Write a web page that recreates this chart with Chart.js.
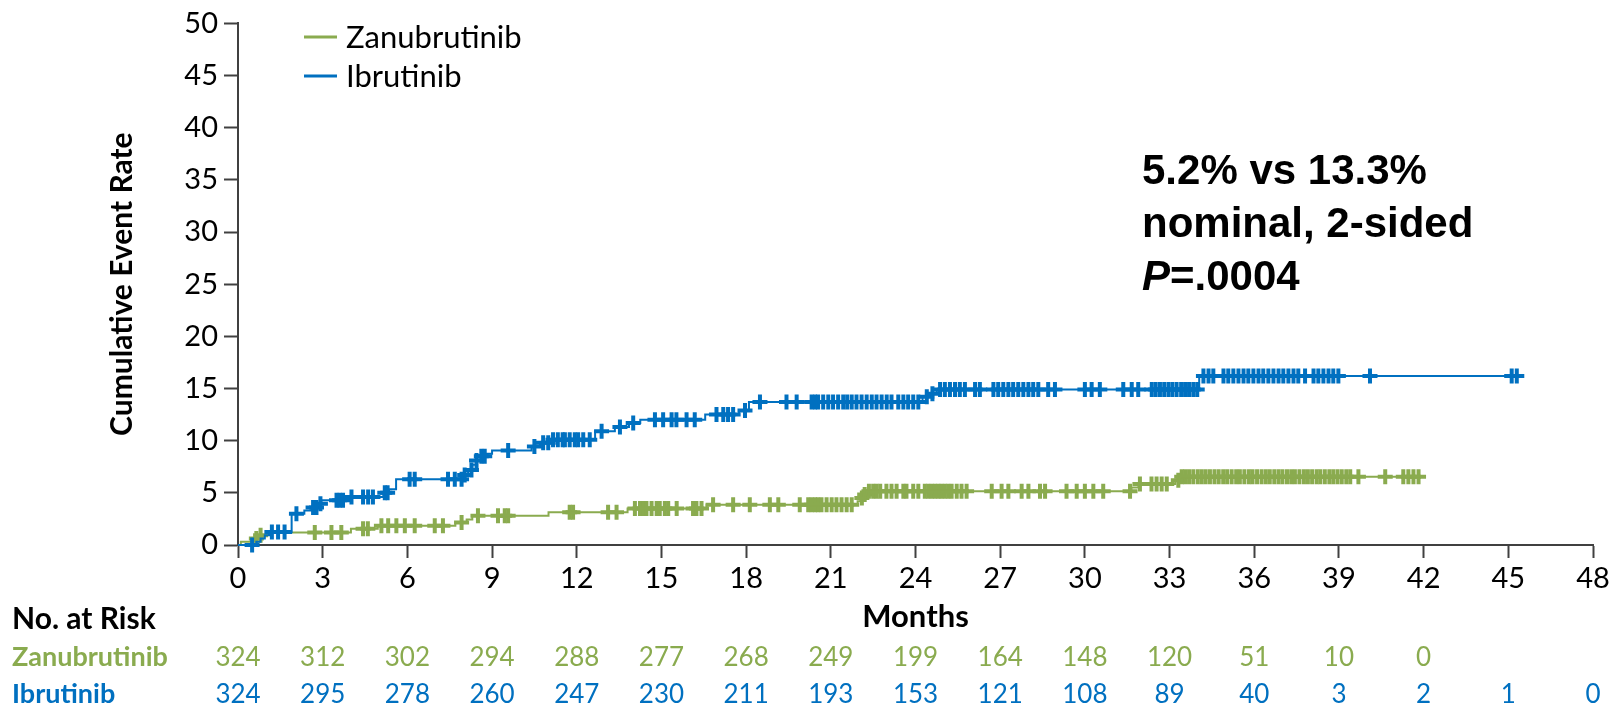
<!DOCTYPE html>
<html>
<head>
<meta charset="utf-8">
<script src="https://cdn.jsdelivr.net/npm/chart.js@4.4.1/dist/chart.umd.min.js"></script>
<style>
  html, body { margin: 0; padding: 0; background: #ffffff; }
  #wrap { width: 1618px; height: 705px; position: relative; }
  canvas { display: block; }
</style>
</head>
<body>
<div id="wrap"><canvas id="km" width="1618" height="705"></canvas></div>
<script>
// ---- axis ticks ----
const monthTicks = [0, 3, 6, 9, 12, 15, 18, 21, 24, 27, 30, 33, 36, 39, 42, 45, 48];
const rateTicks = [0, 5, 10, 15, 20, 25, 30, 35, 40, 45, 50];

// ---- series names & colours ----
const seriesNames = ['Zanubrutinib', 'Ibrutinib'];
const seriesColors = ['#8aab4f', '#0070c0'];

// ---- Zanubrutinib: step changes (months, cumulative event rate %) ----
const zanuTimes = [0, 0.1, 0.6, 0.75, 1.0, 4.0, 4.95, 7.7, 8.1, 8.3, 11.0, 13.8, 16.6,
  21.95, 22.05, 22.15, 22.25, 31.65, 31.9, 33.2, 33.35, 41.85];
const zanuRates = [0, 0.31, 0.62, 0.93, 1.2, 1.55, 1.85, 2.15, 2.45, 2.8, 3.15, 3.5, 3.85,
  4.2, 4.5, 4.85, 5.15, 5.5, 5.85, 6.2, 6.55, 6.55];
// censoring times (months)
const zanuCensored = [0.65, 0.8, 2.72, 3.31, 3.66, 4.43, 4.6, 5.08, 5.32, 5.61, 5.91, 6.26,
  6.97, 7.26, 7.92, 8.5, 9.21, 9.45, 9.57, 11.75, 11.87, 13.11, 13.41, 14.06, 14.24, 14.35,
  14.47, 14.65, 14.83, 14.94, 15.12, 15.24, 15.54, 16.12, 16.24, 16.42, 16.83, 17.54, 18.13,
  18.84, 19.14, 19.9, 20.2, 20.32, 20.44, 20.55, 20.67, 20.85, 21.03, 21.2, 21.38, 21.56,
  21.74, 22.1, 22.2, 22.35, 22.5, 22.62, 22.75, 22.97, 23.15, 23.33, 23.57, 23.68, 23.92,
  24.1, 24.33, 24.45, 24.57, 24.69, 24.81, 24.92, 25.04, 25.16, 25.28, 25.46, 25.63, 25.81,
  26.7, 27.05, 27.29, 27.76, 28.0, 28.41, 28.59, 29.35, 29.71, 30.0, 30.3, 30.65, 31.6,
  31.95, 32.36, 32.54, 32.72, 32.9, 33.31, 33.43, 33.55, 33.69, 33.84, 34.0, 34.14, 34.28,
  34.43, 34.59, 34.74, 34.9, 35.04, 35.2, 35.36, 35.49, 35.65, 35.81, 35.94, 36.1, 36.26,
  36.41, 36.55, 36.71, 36.86, 37.0, 37.16, 37.31, 37.44, 37.6, 37.76, 37.9, 38.05, 38.21,
  38.34, 38.5, 38.66, 38.8, 38.95, 39.1, 39.26, 39.4, 39.69, 40.64, 41.28, 41.46, 41.64, 41.82];

// ---- Ibrutinib: step changes (months, cumulative event rate %) ----
const ibruTimes = [0, 0.65, 0.8, 0.95, 1.1, 1.9, 2.35, 2.6, 2.8, 2.95, 3.8, 5.15, 5.35, 5.6,
  7.95, 8.15, 8.3, 8.45, 8.6, 8.75, 9.0, 10.4, 10.7, 11.05, 12.65, 13.35, 13.85, 14.25,
  16.55, 17.75, 18.1, 24.25, 24.5, 24.75, 34.05, 45.3];
const ibruRates = [0, 0.31, 0.62, 0.93, 1.25, 3.0, 3.3, 3.6, 3.95, 4.3, 4.6, 5.0, 5.35, 6.3,
  6.7, 7.2, 7.7, 8.1, 8.5, 8.75, 9.05, 9.45, 9.8, 10.1, 10.9, 11.3, 11.7, 12.0,
  12.5, 12.9, 13.7, 14.2, 14.5, 14.9, 16.2, 16.2];
// censoring times (months)
const ibruCensored = [0.5, 1.2, 1.42, 1.65, 2.07, 2.66, 2.78, 2.92, 3.49, 3.6, 3.72, 4.02,
  4.43, 4.61, 4.78, 5.2, 5.3, 6.08, 6.26, 7.44, 7.68, 7.92, 8.03, 8.27, 8.45, 8.62, 8.74,
  9.57, 10.5, 10.81, 10.99, 11.16, 11.33, 11.5, 11.58, 11.75, 11.93, 12.05, 12.23, 12.46,
  12.88, 13.53, 14.0, 14.77, 15.06, 15.36, 15.53, 15.89, 16.18, 16.95, 17.19, 17.36, 17.54,
  17.96, 18.49, 19.43, 19.79, 20.32, 20.44, 20.55, 20.73, 20.91, 21.08, 21.26, 21.44, 21.58,
  21.74, 21.91, 22.09, 22.27, 22.45, 22.62, 22.8, 22.98, 23.15, 23.39, 23.57, 23.74, 23.92,
  24.1, 24.4, 24.6, 24.87, 25.04, 25.22, 25.4, 25.57, 25.75, 26.11, 26.28, 26.76, 26.93,
  27.11, 27.29, 27.46, 27.64, 27.82, 28.0, 28.17, 28.35, 28.7, 28.94, 30.0, 30.24, 30.53,
  31.36, 31.66, 31.89, 32.37, 32.51, 32.66, 32.81, 32.96, 33.1, 33.25, 33.41, 33.55, 33.69,
  33.84, 33.98, 34.2, 34.38, 34.55, 34.91, 35.08, 35.26, 35.44, 35.62, 35.79, 35.97, 36.15,
  36.32, 36.5, 36.68, 36.86, 37.03, 37.21, 37.39, 37.56, 37.8, 38.1, 38.27, 38.45, 38.63,
  38.8, 38.98, 40.1, 45.12, 45.3];

// ---- number at risk, one entry per month tick ----
const zanuAtRisk = [324, 312, 302, 294, 288, 277, 268, 249, 199, 164, 148, 120, 51, 10, 0];
const ibruAtRisk = [324, 295, 278, 260, 247, 230, 211, 193, 153, 121, 108, 89, 40, 3, 2, 1, 0];

// ---- helpers ----
function stepPoints(times, rates) {
  return times.map((t, i) => ({ x: t, y: rates[i] }));
}
// value of the step curve at time t (used to sit censor marks on the curve)
function rateAt(times, rates, t) {
  let v = rates[0];
  for (let i = 0; i < times.length; i++) {
    if (times[i] <= t) v = rates[i]; else break;
  }
  return v;
}
function censorPoints(censored, times, rates) {
  return censored.map(t => ({ x: t, y: rateAt(times, rates, t) }));
}

const FONT = 'Lato, "Open Sans", sans-serif';
const AXIS = '#404040';

// legend, number-at-risk table and statistics text
const overlay = {
  id: 'overlay',
  afterDraw(chart) {
    const ctx = chart.ctx;
    const xs = chart.scales.x;
    ctx.save();

    // legend
    const legendY = [37, 76];
    ctx.font = '31px ' + FONT;
    ctx.textAlign = 'left';
    ctx.textBaseline = 'middle';
    seriesNames.forEach((name, i) => {
      ctx.strokeStyle = seriesColors[i];
      ctx.lineWidth = 3;
      ctx.beginPath();
      ctx.moveTo(304, legendY[i]);
      ctx.lineTo(337, legendY[i]);
      ctx.stroke();
      ctx.fillStyle = '#000';
      ctx.fillText(name, 346, legendY[i] + 1);
    });

    // number at risk
    ctx.textBaseline = 'alphabetic';
    ctx.fillStyle = '#000';
    ctx.font = 'bold 30px ' + FONT;
    ctx.fillText('No. at Risk', 12, 629);
    const rows = [zanuAtRisk, ibruAtRisk];
    const rowY = [666, 703];
    rows.forEach((vals, r) => {
      ctx.fillStyle = seriesColors[r];
      ctx.font = 'bold 27px ' + FONT;
      ctx.textAlign = 'left';
      ctx.fillText(seriesNames[r], 12, rowY[r]);
      ctx.font = '26px ' + FONT;
      ctx.textAlign = 'center';
      vals.forEach((v, i) => {
        ctx.fillText(String(v), xs.getPixelForValue(monthTicks[i]), rowY[r]);
      });
    });

    // statistics
    const sx = 1142;
    ctx.fillStyle = '#000';
    ctx.textAlign = 'left';
    ctx.font = 'bold 42px "Liberation Sans", Arial, sans-serif';
    ctx.fillText('5.2% vs 13.3%', sx, 184);
    ctx.fillText('nominal, 2-sided', sx, 237);
    ctx.font = 'italic bold 42px "Liberation Sans", Arial, sans-serif';
    ctx.fillText('P', sx, 290);
    const pw = ctx.measureText('P').width;
    ctx.font = 'bold 42px "Liberation Sans", Arial, sans-serif';
    ctx.fillText('=.0004', sx + pw, 290);

    ctx.restore();
  }
};

const ctx = document.getElementById('km').getContext('2d');
new Chart(ctx, {
  type: 'line',
  data: {
    datasets: [
      {
        label: seriesNames[1],
        data: stepPoints(ibruTimes, ibruRates),
        borderColor: seriesColors[1],
        borderWidth: 2,
        stepped: 'before',
        pointRadius: 0,
        fill: false,
        clip: false
      },
      {
        label: seriesNames[1] + ' censored',
        data: censorPoints(ibruCensored, ibruTimes, ibruRates),
        showLine: false,
        pointStyle: 'cross',
        pointRadius: 7.5,
        pointBorderWidth: 4,
        borderColor: seriesColors[1],
        backgroundColor: seriesColors[1],
        clip: false
      },
      {
        label: seriesNames[0],
        data: stepPoints(zanuTimes, zanuRates),
        borderColor: seriesColors[0],
        borderWidth: 2,
        stepped: 'before',
        pointRadius: 0,
        fill: false,
        clip: false
      },
      {
        label: seriesNames[0] + ' censored',
        data: censorPoints(zanuCensored, zanuTimes, zanuRates),
        showLine: false,
        pointStyle: 'cross',
        pointRadius: 7.5,
        pointBorderWidth: 4,
        borderColor: seriesColors[0],
        backgroundColor: seriesColors[0],
        clip: false
      }
    ]
  },
  options: {
    responsive: false,
    animation: false,
    events: [],
    layout: { padding: { top: 18, right: 25, bottom: 0, left: 0 } },
    plugins: {
      legend: { display: false },
      tooltip: { enabled: false }
    },
    scales: {
      x: {
        type: 'linear',
        min: 0,
        max: 48,
        afterBuildTicks: (scale) => { scale.ticks = monthTicks.map(v => ({ value: v })); },
        afterFit: (scale) => { scale.height = 160; },
        border: { display: true, color: AXIS, width: 2 },
        grid: { drawOnChartArea: false, drawTicks: true, tickLength: 13, tickWidth: 2, tickColor: AXIS },
        ticks: { color: '#000', font: { family: FONT, size: 29 }, padding: 3, maxRotation: 0, autoSkip: false },
        title: {
          display: true,
          text: 'Months',
          color: '#000',
          font: { family: FONT, size: 31, weight: 'bold' },
          padding: { top: 0, bottom: 69 }
        }
      },
      y: {
        type: 'linear',
        min: 0,
        max: 50,
        afterBuildTicks: (scale) => { scale.ticks = rateTicks.map(v => ({ value: v })); },
        afterFit: (scale) => { scale.width = 238; },
        border: { display: true, color: AXIS, width: 2 },
        grid: { drawOnChartArea: false, drawTicks: true, tickLength: 14, tickWidth: 2, tickColor: AXIS },
        ticks: { color: '#000', font: { family: FONT, size: 29 }, padding: 6, autoSkip: false },
        title: {
          display: true,
          text: 'Cumulative Event Rate',
          color: '#000',
          font: { family: FONT, size: 30, weight: 'bold' },
          padding: { top: 104, bottom: 0 }
        }
      }
    }
  },
  plugins: [overlay]
});
</script>
</body>
</html>
